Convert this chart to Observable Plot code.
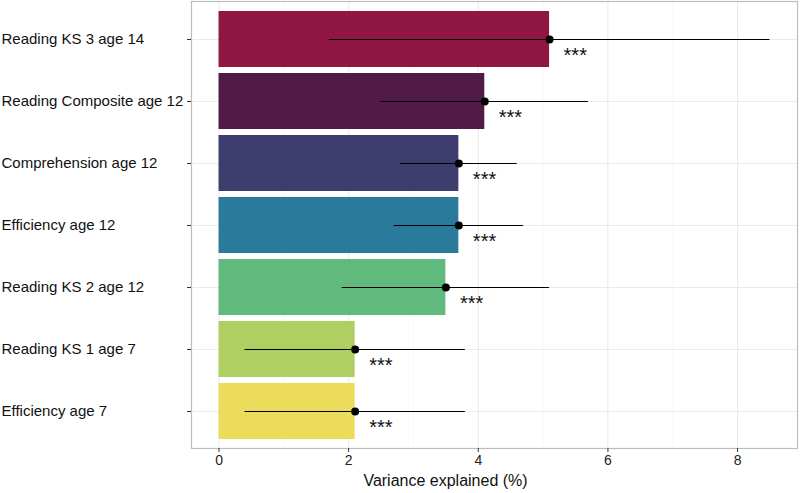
<!DOCTYPE html>
<html><head><meta charset="utf-8">
<script src="https://cdn.jsdelivr.net/npm/d3@7"></script>
<script src="https://cdn.jsdelivr.net/npm/@observablehq/plot@0.6"></script>
<style>
body{margin:0;background:#fff;font-family:"Liberation Sans",Arial,sans-serif;}
</style></head>
<body><div id="chart"></div>
<script>
const categories = ["Reading KS 3 age 14","Reading Composite age 12","Comprehension age 12","Efficiency age 12","Reading KS 2 age 12","Reading KS 1 age 7","Efficiency age 7"];
const values = [5.1, 4.1, 3.7, 3.7, 3.5, 2.1, 2.1];
const lower  = [1.7, 2.5, 2.8, 2.7, 1.9, 0.4, 0.4];
const upper  = [8.5, 5.7, 4.6, 4.7, 5.1, 3.8, 3.8];
const stars  = ["***","***","***","***","***","***","***"];
const colors = ["#8F1741","#521A46","#3E3D6E","#2A7B9B","#60BA7D","#B0CF62","#EBDC5C"];
const xTicks = [0,2,4,6,8];
const xMinor = [1,3,5,7];
const xTitle = "Variance explained (%)";

const data = categories.map((c,i)=>({cat:c, v:values[i], lo:lower[i], hi:upper[i], s:stars[i], col:colors[i]}));

const chart = Plot.plot({
  width: 800, height: 493,
  marginLeft: 191, marginRight: 3, marginTop: 1, marginBottom: 45,
  style: {fontFamily: "Liberation Sans, Arial, sans-serif", background: "#fff"},
  x: {domain: [-0.425, 8.925], ticks: xTicks, label: null},
  y: {domain: categories, paddingInner: 0.1, paddingOuter: 0.15, label: null},
  marks: [
    Plot.ruleX(xMinor, {stroke: "#F4F4F4", strokeWidth: 0.6}),
    Plot.ruleX(xTicks, {stroke: "#EBEBEB", strokeWidth: 1.1}),
    Plot.tickY(categories, {y: d => d, stroke: "#EBEBEB", strokeWidth: 1.1}),
    Plot.barX(data, {y: "cat", x: "v", fill: "col"}),
    Plot.ruleY(data, {y: "cat", x1: "lo", x2: "hi", stroke: "#000", strokeWidth: 1.1}),
    Plot.dot(data, {y: "cat", x: "v", r: 4, fill: "#000", stroke: "none"}),
    Plot.text(data, {y: "cat", x: "v", text: "s", textAnchor: "start", dx: 14, dy: 16, fontSize: 20, fill: "#111"}),
    Plot.frame({stroke: "#BDBDBD", strokeWidth: 1.2}),
    Plot.axisX({ticks: xTicks, tickSize: 4, tickPadding: 3, fontSize: 14, stroke: "#333", color: "#222", label: null}),
    Plot.axisY({tickSize: 4, text: null, stroke: "#333", label: null}),
    Plot.text(categories, {y: d => d, text: d => d, frameAnchor: "left", textAnchor: "start", dx: -190, fontSize: 15, fill: "#111"}),
    Plot.text([xTitle], {frameAnchor: "bottom", dx: -49, dy: 37, fontSize: 16, fill: "#111"})
  ]
});
document.getElementById("chart").appendChild(chart);
</script></body></html>
